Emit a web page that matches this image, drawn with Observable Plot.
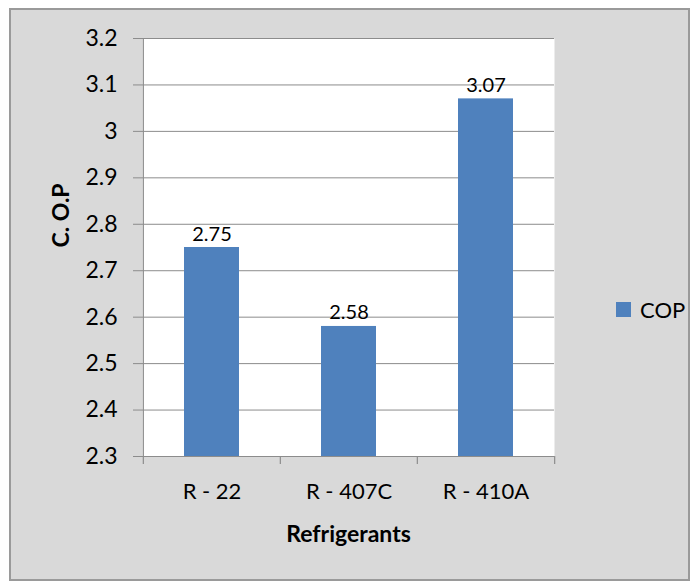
<!DOCTYPE html>
<html>
<head>
<meta charset="utf-8">
<script src="https://cdn.jsdelivr.net/npm/d3@7"></script>
<script src="https://cdn.jsdelivr.net/npm/@observablehq/plot@0.6"></script>
<style>
  html, body { margin: 0; padding: 0; background: #ffffff; }
  #wrap { position: relative; width: 693px; height: 585px; font-family: Lato, "Open Sans", sans-serif; }
  #panel { position: absolute; left: 9px; top: 8px; width: 681px; height: 573px; box-sizing: border-box;
           background: #d9d9d9; border: 2px solid #9a9a9a; }
  #chart { position: absolute; left: 0; top: 0; }
  #legend { position: absolute; left: 616px; top: 296px; height: 26px; display: flex; align-items: center; }
  #legend .sw { width: 15px; height: 15px; background: #4f81bd; margin-right: 9px; }
  #legend .lb { font-size: 22px; color: #000; }
</style>
</head>
<body>
<div id="wrap">
  <div id="panel"></div>
  <div id="chart"></div>
  <div id="legend"><div class="sw"></div><div class="lb">COP</div></div>
</div>
<script>
const categories = ["R - 22", "R - 407C", "R - 410A"];
const copValues = [2.75, 2.58, 3.07];
const yTicks = [2.3, 2.4, 2.5, 2.6, 2.7, 2.8, 2.9, 3.0, 3.1, 3.2];
const yMin = 2.3, yMax = 3.2;
const xTitle = "Refrigerants";
const yTitle = "C. O.P";

const data = categories.map((c, i) => ({name: c, value: copValues[i]}));

const W = 693, H = 585;
const mL = 142, mR = 139, mT = 38, mB = 129;
const frameW = W - mL - mR, frameH = H - mT - mB;
const step = frameW / categories.length;
const gray = "#8c8c8c";

const chart = Plot.plot({
  width: W, height: H,
  marginLeft: mL, marginRight: mR, marginTop: mT, marginBottom: mB,
  style: {background: "transparent", fontFamily: "Lato, 'Open Sans', sans-serif", color: "#000", overflow: "visible"},
  x: {type: "band", domain: categories, paddingInner: 0.6, paddingOuter: 0.3, axis: null},
  y: {domain: [yMin, yMax], axis: null},
  marks: [
    Plot.frame({fill: "#ffffff", stroke: null}),
    Plot.gridY(yTicks, {stroke: gray, strokeOpacity: 1, strokeWidth: 1}),
    Plot.barY(data, {x: "name", y1: yMin, y2: "value", fill: "#4f81bd"}),
    Plot.ruleX([categories[0]], {dx: -step / 2, stroke: gray, strokeWidth: 1.2}),
    Plot.ruleY([yMin], {stroke: gray, strokeWidth: 1.2}),
    Plot.ruleX(categories, {dx: -step / 2, insetTop: frameH, insetBottom: -8, stroke: gray, strokeWidth: 1.2}),
    Plot.ruleX([categories[categories.length - 1]], {dx: step / 2, insetTop: frameH, insetBottom: -8, stroke: gray, strokeWidth: 1.2}),
    Plot.axisY(yTicks, {tickSize: 9, tickPadding: 16, stroke: gray, fill: "#000", fontSize: 23, label: null, tickFormat: d => String(d)}),
    Plot.axisX({tickSize: 0, tickPadding: 27, fill: "#000", fontSize: 22, label: null}),
    Plot.text(data, {x: "name", y: "value", text: d => String(d.value), dy: -7, lineAnchor: "bottom", fontSize: 20, fill: "#000"}),
    Plot.text([xTitle], {frameAnchor: "bottom", dy: 78, lineAnchor: "middle", fontSize: 23, fontWeight: "bold", fill: "#000"}),
    Plot.text([yTitle], {frameAnchor: "left", dx: -81, rotate: -90, lineAnchor: "middle", fontSize: 23, fontWeight: "bold", fill: "#000"})
  ]
});
document.getElementById("chart").appendChild(chart);
</script>
</body>
</html>
